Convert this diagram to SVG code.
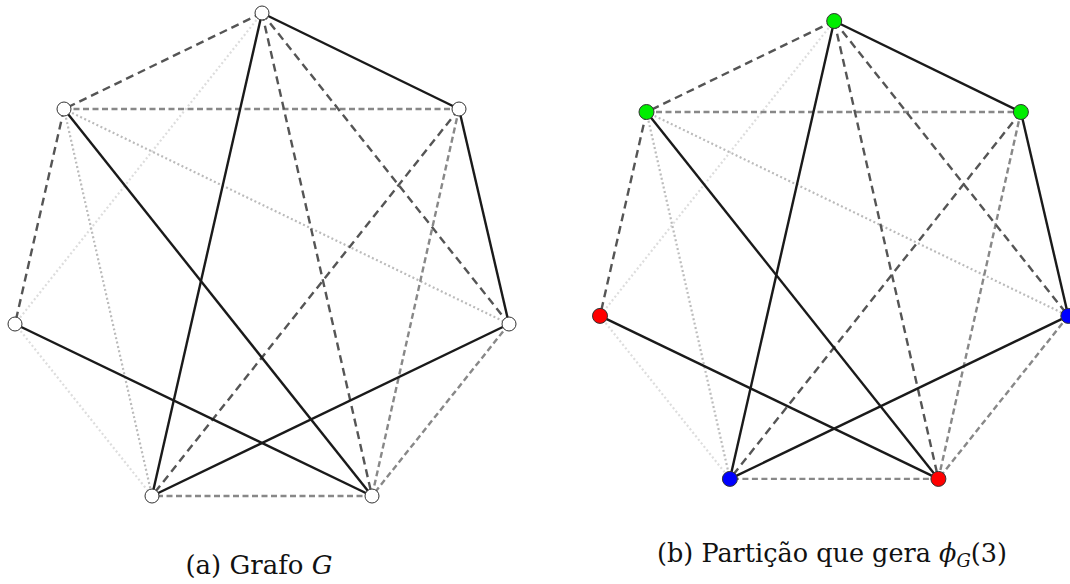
<svg xmlns="http://www.w3.org/2000/svg" width="1070" height="584" viewBox="0 0 1070 584">
  <style>
    .e { fill: none; stroke-linecap: butt; }
    .solid { stroke: #1a1a1a; stroke-width: 2.4; }
    .dk { stroke: #555; stroke-width: 2.4; stroke-dasharray: 8 5; }
    .md { stroke: #888; stroke-width: 2.4; stroke-dasharray: 6 3.5; }
    .dt { stroke: #bbb; stroke-width: 2.2; stroke-dasharray: 2 2.5; }
    .lt { stroke: #ddd; stroke-width: 2.2; stroke-dasharray: 2 2.5; }
    .node { stroke: #333; stroke-width: 1; }
    .white { fill: #fff; }
    .green { fill: #00ee00; }
    .blue { fill: #0000ff; }
    .red { fill: #ff0000; }
    .cap { font-family: "DejaVu Serif", serif; fill: #111; }
  </style>

  <!-- (a) graph G: connectors -->
  <g id="edges-a">
    <line class="e lt" x1="262" y1="13" x2="15" y2="324"/>
    <line class="e lt" x1="15" y1="324" x2="152" y2="496"/>
    <line class="e dt" x1="64" y1="109" x2="152" y2="496"/>
    <line class="e dt" x1="64" y1="109" x2="509" y2="324"/>
    <line class="e md" x1="64" y1="109" x2="459" y2="109"/>
    <line class="e md" x1="459" y1="109" x2="372" y2="496"/>
    <line class="e md" x1="509" y1="324" x2="372" y2="496"/>
    <line class="e md" x1="372" y1="496" x2="152" y2="496"/>
    <line class="e dk" x1="262" y1="13" x2="64" y2="109"/>
    <line class="e dk" x1="262" y1="13" x2="372" y2="496"/>
    <line class="e dk" x1="262" y1="13" x2="509" y2="324"/>
    <line class="e dk" x1="459" y1="109" x2="152" y2="496"/>
    <line class="e dk" x1="64" y1="109" x2="15" y2="324"/>
    <line class="e solid" x1="262" y1="13" x2="459" y2="109"/>
    <line class="e solid" x1="262" y1="13" x2="152" y2="496"/>
    <line class="e solid" x1="459" y1="109" x2="509" y2="324"/>
    <line class="e solid" x1="64" y1="109" x2="372" y2="496"/>
    <line class="e solid" x1="509" y1="324" x2="152" y2="496"/>
    <line class="e solid" x1="15" y1="324" x2="372" y2="496"/>
  </g>

  <!-- (a) graph G: vertices -->
  <g id="a-v0"><circle class="node white" cx="262" cy="13" r="7"/></g>
  <g id="a-v1"><circle class="node white" cx="459" cy="109" r="7"/></g>
  <g id="a-v2"><circle class="node white" cx="509" cy="324" r="7"/></g>
  <g id="a-v3"><circle class="node white" cx="372" cy="496" r="7"/></g>
  <g id="a-v4"><circle class="node white" cx="152" cy="496" r="7"/></g>
  <g id="a-v5"><circle class="node white" cx="15" cy="324" r="7"/></g>
  <g id="a-v6"><circle class="node white" cx="64" cy="109" r="7"/></g>

  <!-- (b) coloured partition: connectors -->
  <g id="edges-b">
    <line class="e lt" x1="834.2" y1="21" x2="600" y2="315.9"/>
    <line class="e lt" x1="600" y1="315.9" x2="729.9" y2="478.9"/>
    <line class="e dt" x1="646.5" y1="112" x2="729.9" y2="478.9"/>
    <line class="e dt" x1="646.5" y1="112" x2="1068.3" y2="315.9"/>
    <line class="e md" x1="646.5" y1="112" x2="1020.9" y2="112"/>
    <line class="e md" x1="1020.9" y1="112" x2="938.4" y2="478.9"/>
    <line class="e md" x1="1068.3" y1="315.9" x2="938.4" y2="478.9"/>
    <line class="e md" x1="938.4" y1="478.9" x2="729.9" y2="478.9"/>
    <line class="e dk" x1="834.2" y1="21" x2="646.5" y2="112"/>
    <line class="e dk" x1="834.2" y1="21" x2="938.4" y2="478.9"/>
    <line class="e dk" x1="834.2" y1="21" x2="1068.3" y2="315.9"/>
    <line class="e dk" x1="1020.9" y1="112" x2="729.9" y2="478.9"/>
    <line class="e dk" x1="646.5" y1="112" x2="600" y2="315.9"/>
    <line class="e solid" x1="834.2" y1="21" x2="1020.9" y2="112"/>
    <line class="e solid" x1="834.2" y1="21" x2="729.9" y2="478.9"/>
    <line class="e solid" x1="1020.9" y1="112" x2="1068.3" y2="315.9"/>
    <line class="e solid" x1="646.5" y1="112" x2="938.4" y2="478.9"/>
    <line class="e solid" x1="1068.3" y1="315.9" x2="729.9" y2="478.9"/>
    <line class="e solid" x1="600" y1="315.9" x2="938.4" y2="478.9"/>
  </g>

  <!-- (b) coloured partition: vertices -->
  <g id="b-v0"><circle class="node green" cx="834.2" cy="21" r="7.5"/></g>
  <g id="b-v1"><circle class="node green" cx="1020.9" cy="112" r="7.5"/></g>
  <g id="b-v2"><circle class="node blue" cx="1068.3" cy="315.9" r="7.5"/></g>
  <g id="b-v3"><circle class="node red" cx="938.4" cy="478.9" r="7.5"/></g>
  <g id="b-v4"><circle class="node blue" cx="729.9" cy="478.9" r="7.5"/></g>
  <g id="b-v5"><circle class="node red" cx="600" cy="315.9" r="7.5"/></g>
  <g id="b-v6"><circle class="node green" cx="646.5" cy="112" r="7.5"/></g>

  <!-- captions -->
  <text class="cap" font-size="26" x="259" y="574" text-anchor="middle">(a) Grafo <tspan font-style="italic">G</tspan></text>
  <text class="cap" font-size="25.5" x="832" y="562" text-anchor="middle">(b) Partição que gera <tspan font-style="italic">ϕ</tspan><tspan font-style="italic" font-size="18" dy="5">G</tspan><tspan dy="-5">(3)</tspan></text>
</svg>
